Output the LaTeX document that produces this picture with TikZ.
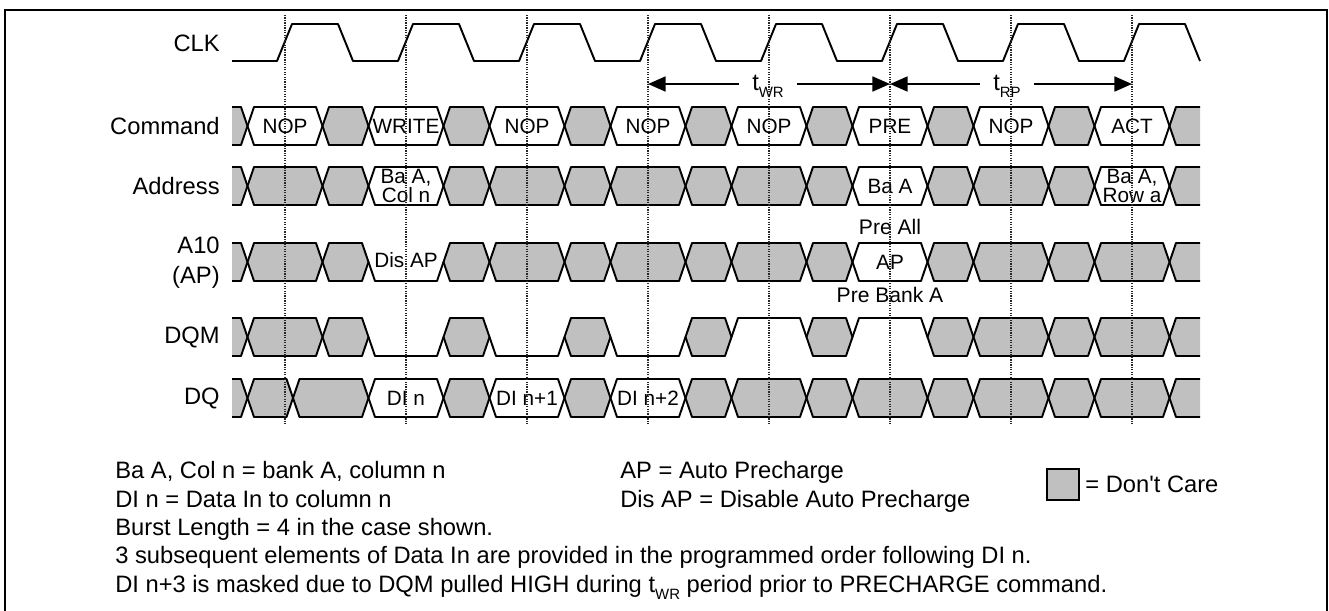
\documentclass[tikz,border=0pt]{standalone}
\usepackage{fontspec}
\setmainfont{Liberation Sans}[Ligatures=TeXOff]
\usetikzlibrary{arrows.meta}
\definecolor{dcgray}{RGB}{192,192,192}

% subscript of a timing name
\newcommand{\lowsub}[1]{\raisebox{-4.5pt}{\fontsize{8.5pt}{8.5pt}\selectfont #1}}
% row centre, from, to
\newcommand{\dcseg}[3]{\filldraw[dcshape] (#2,#1) -- (#2+6.5,#1-19) -- (#3-6.5,#1-19) -- (#3,#1) -- (#3-6.5,#1+19) -- (#2+6.5,#1+19) -- cycle;}
\newcommand{\valseg}[5]{\draw[wave] (#2,#1) -- (#2+6.5,#1-19) -- (#3-6.5,#1-19) -- (#3,#1) -- (#3-6.5,#1+19) -- (#2+6.5,#1+19) -- cycle;
  \node[celltext] (#4) at ({(#2+#3)/2},#1) {#5};}
\newcommand{\lowseg}[3]{\draw[wave] (#2,#1) -- (#2+6.5,#1+19) -- (#3-6.5,#1+19) -- (#3,#1);}
\newcommand{\highseg}[3]{\draw[wave] (#2,#1) -- (#2+6.5,#1-19) -- (#3-6.5,#1-19) -- (#3,#1);}
\newcommand{\dcstart}[2]{\fill[dcgray] (232,#1-19) -- (#2-6.5,#1-19) -- (#2,#1) -- (#2-6.5,#1+19) -- (232,#1+19) -- cycle;
  \draw[wave] (232,#1-19) -- (#2-6.5,#1-19) -- (#2,#1) -- (#2-6.5,#1+19) -- (232,#1+19);}
\newcommand{\dcend}[2]{\fill[dcgray] (1200,#1-19) -- (#2+6.5,#1-19) -- (#2,#1) -- (#2+6.5,#1+19) -- (1200,#1+19) -- cycle;
  \draw[wave] (1200,#1-19) -- (#2+6.5,#1-19) -- (#2,#1) -- (#2+6.5,#1+19) -- (1200,#1+19);}

\begin{document}
\begin{tikzpicture}[x=0.02cm,y=-0.02cm,
    wave/.style={line width=1.1pt,line join=round},
    dcshape/.style={wave,fill=dcgray},
    frame/.style={line width=1.1pt},
    edgeline/.style={line width=0.6pt,black!85,dash pattern=on 0.7pt off 0.7pt},
    siglabel/.style={anchor=east,inner sep=0pt,align=right,font=\fontsize{13.5pt}{17pt}\selectfont},
    celltext/.style={inner sep=0pt,align=center,font=\fontsize{11.8pt}{8pt}\selectfont},
    notetext/.style={inner sep=0pt,font=\fontsize{12pt}{14pt}\selectfont},
    tlabel/.style={anchor=base,inner ysep=0pt,inner xsep=7.5pt,font=\fontsize{13.5pt}{14pt}\selectfont},
    tarrow/.style={line width=1.1pt,-{Triangle[length=10pt,width=8.5pt]}},
    legtext/.style={anchor=base west,inner sep=0pt,font=\fontsize{13.5pt}{16pt}\selectfont},
    dcbox/.style={draw,fill=dcgray,line width=1pt,inner sep=0pt,minimum width=18pt,minimum height=17.5pt}]
\useasboundingbox (0,0) rectangle (1329,610);
\draw[frame] (5,612) -- (5,10) -- (1327,10) -- (1327,612);

% signal names
\node[siglabel] (lblclk) at (220,43) {CLK};
\node[siglabel] (lblcmd) at (220,126) {Command};
\node[siglabel] (lbladdr) at (220,186) {Address};
\node[siglabel] (lbla10) at (220,263) {A10\\(AP)};
\node[siglabel] (lbldqm) at (220,337) {DQM};
\node[siglabel] (lbldq) at (220,398) {DQ};

% clock
\draw[wave] (232,61) \foreach \e in {285,406,527,648,769,890,1011,1132} { -- (\e-8,61) -- (\e+7,24) -- (\e+53,24) -- (\e+68,61) };

% don't care between the windows
\foreach \r in {126,186,262,337} {
  \dcstart{\r}{247.5}
  \foreach \a in {322.5,443.5,564.5,685.5,806.5,927.5,1048.5} {\dcseg{\r}{\a}{\a+46}}
  \dcend{\r}{1169.5}
}

% Command
\foreach \e/\t [count=\i from 0] in {285/NOP,406/WRITE,527/NOP,648/NOP,769/NOP,890/PRE,1011/NOP,1132/ACT}
  {\valseg{126}{\e-37.5}{\e+37.5}{cmd\i}{\t}}

% Address
\foreach \e in {285,527,648,769,1011} {\dcseg{186}{\e-37.5}{\e+37.5}}
\valseg{186}{368.5}{443.5}{addr1}{Ba A,\\Col n}
\valseg{186}{852.5}{927.5}{addr5}{Ba A}
\valseg{186}{1094.5}{1169.5}{addr7}{Ba A,\\Row a}

% A10
\foreach \e in {285,527,648,769,1011,1132} {\dcseg{262}{\e-37.5}{\e+37.5}}
\lowseg{262}{368.5}{443.5}
\node[celltext] (a10dis) at (406,260) {Dis AP};
\valseg{262}{852.5}{927.5}{a10ap}{AP}
\node[notetext] (preall) at (890,227) {Pre All};
\node[notetext] (prebank) at (890,295) {Pre Bank A};

% DQM
\foreach \e in {285,1011,1132} {\dcseg{337}{\e-37.5}{\e+37.5}}
\foreach \e in {406,527,648} {\lowseg{337}{\e-37.5}{\e+37.5}}
\foreach \e in {769,890} {\highseg{337}{\e-37.5}{\e+37.5}}

% DQ
\dcstart{398}{247.5}
\dcseg{398}{247.5}{293}
\dcseg{398}{293}{368.5}
\foreach \a in {443.5,564.5,685.5,806.5,927.5,1048.5} {\dcseg{398}{\a}{\a+46}}
\foreach \e in {769,890,1011,1132} {\dcseg{398}{\e-37.5}{\e+37.5}}
\foreach \e/\t [count=\i] in {406/DI n,527/DI n+1,648/DI n+2}
  {\valseg{398}{\e-37.5}{\e+37.5}{dq\i}{\t}}
\dcend{398}{1169.5}

% tWR and tRP
\coordinate (wrA) at (648,84);
\coordinate (wrB) at (890,84);
\coordinate (rpB) at (1132,84);
\node[tlabel] (twr) at (768,90) {t\lowsub{WR}};
\node[tlabel] (trp) at (1007,90) {t\lowsub{RP}};
\draw[tarrow] (twr.west |- wrA) -- (wrA);
\draw[tarrow] (twr.east |- wrA) -- (wrB);
\draw[tarrow] (trp.west |- wrA) -- (wrB);
\draw[tarrow] (trp.east |- wrA) -- (rpB);

% rising edges
\foreach \e in {285,406,527,648,769,890,1011,1132} \draw[edgeline] (\e,15) -- (\e,424);

% notes
\node[legtext] (leg1) at (115,478) {Ba A, Col n = bank A, column n};
\node[legtext] (leg2) at (115,507) {DI n = Data In to column n};
\node[legtext] (leg3) at (115,535) {Burst Length = 4 in the case shown.};
\node[legtext] (leg4) at (115,563) {3 subsequent elements of Data In are provided in the programmed order following DI n.};
\node[legtext] (leg5) at (115,592) {DI n+3 is masked due to DQM pulled HIGH during t\lowsub{WR} period prior to PRECHARGE command.};
\node[legtext] (legap) at (620,478) {AP = Auto Precharge};
\node[legtext] (legdis) at (620,507) {Dis AP = Disable Auto Precharge};
\node[dcbox] (dcsym) at (1063,484.5) {};
\node[legtext] (dctext) at (1085,492) {= Don't Care};
\end{tikzpicture}
\end{document}
